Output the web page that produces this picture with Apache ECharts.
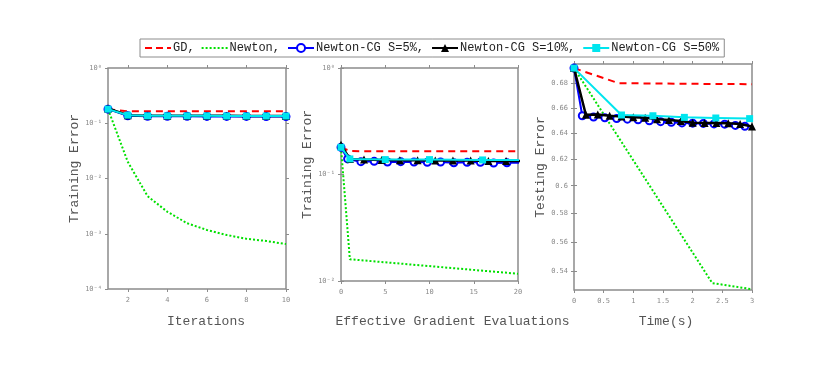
<!DOCTYPE html>
<html>
<head>
<meta charset="utf-8">
<script src="https://cdn.jsdelivr.net/npm/echarts@6/dist/echarts.min.js"></script>
<style>
html,body{margin:0;padding:0;background:#fff;}
#chart{width:830px;height:371px;}
</style>
</head>
<body>
<div id="chart"></div>
<script>
// series names / legend
const names = ['GD', 'Newton', 'Newton-CG S=5%', 'Newton-CG S=10%', 'Newton-CG S=50%'];

// panel 1: training error vs iterations
const itX = [1, 2, 3, 4, 5, 6, 7, 8, 9, 10];
const itGD = [0.18, 0.165, 0.165, 0.165, 0.165, 0.165, 0.165, 0.165, 0.165, 0.165];
const itNewton = [0.18, 0.02, 0.0048, 0.0025, 0.00155, 0.00117, 0.00095, 0.00081, 0.00074, 0.00065];
const itCG5 = [0.18, 0.137, 0.134, 0.134, 0.134, 0.133, 0.133, 0.133, 0.132, 0.132];
const itCG10 = [0.185, 0.14, 0.137, 0.137, 0.136, 0.136, 0.136, 0.135, 0.135, 0.135];
const itCG50 = [0.18, 0.14, 0.136, 0.136, 0.136, 0.136, 0.135, 0.135, 0.135, 0.135];
const itTicks = [2, 4, 6, 8, 10];

// panel 2: training error vs effective gradient evaluations
const geGDx = [0, 1, 5, 10, 15, 20];
const geGD = [0.18, 0.166, 0.165, 0.165, 0.165, 0.165];
const geNewtonX = [0, 1, 20];
const geNewton = [0.18, 0.016, 0.0117];
const geCG5x = [0, 0.75, 2.25, 3.75, 5.25, 6.75, 8.25, 9.75, 11.25, 12.75, 14.25, 15.75, 17.25, 18.75, 20.25];
const geCG5 = [0.18, 0.14, 0.132, 0.133, 0.131, 0.132, 0.131, 0.13, 0.131, 0.129, 0.13, 0.13, 0.128, 0.129, 0.129];
const geCG10x = [0, 1, 2.6, 4.6, 6.65, 8.65, 10.65, 12.65, 14.65, 16.65, 18.65, 20.65];
const geCG10 = [0.19, 0.14, 0.138, 0.137, 0.136, 0.136, 0.135, 0.135, 0.135, 0.134, 0.134, 0.134];
const geCG50x = [0, 1, 5, 10, 16, 22];
const geCG50 = [0.18, 0.14, 0.138, 0.138, 0.137, 0.137];

// panel 3: testing error vs time(s)
const tmGDx = [0, 0.75, 1.5, 2.25, 3];
const tmGD = [0.693, 0.6803, 0.68, 0.6797, 0.6795];
const tmNewtonX = [0, 2.33, 3];
const tmNewton = [0.693, 0.5325, 0.5285];
const tmCG5x = [0, 0.14, 0.33, 0.52, 0.72, 0.9, 1.08, 1.27, 1.46, 1.64, 1.82, 2.0, 2.18, 2.36, 2.54, 2.72, 2.88];
const tmCG5 = [0.693, 0.6537, 0.6527, 0.652, 0.6515, 0.651, 0.6505, 0.6497, 0.649, 0.6485, 0.648, 0.6478, 0.6476, 0.6472, 0.647, 0.646, 0.6453];
const tmCG10x = [0, 0.2, 0.4, 0.6, 0.8, 1.0, 1.2, 1.4, 1.6, 1.8, 2.0, 2.2, 2.4, 2.6, 2.8, 3.0];
const tmCG10 = [0.693, 0.6545, 0.6547, 0.6537, 0.653, 0.6524, 0.652, 0.651, 0.6503, 0.6495, 0.6482, 0.648, 0.6479, 0.6478, 0.6471, 0.6452];
const tmCG50x = [0, 0.8, 1.33, 1.86, 2.39, 2.96];
const tmCG50 = [0.693, 0.6543, 0.6537, 0.6524, 0.6519, 0.6514];
const tmYTicks = [0.54, 0.56, 0.58, 0.6, 0.62, 0.64, 0.66, 0.68];

const zip = (xs, ys) => xs.map((x, i) => [x, ys[i]]);

const gray = '#8c8c8c';
const mono = '"Liberation Mono", "DejaVu Sans Mono", monospace';
const supMap = {'-': '\u207b', '0': '\u2070', '1': '\u00b9', '2': '\u00b2', '3': '\u00b3', '4': '\u2074'};
const powLabel = v => '10' + String(Math.round(Math.log10(v))).split('').map(c => supMap[c]).join('');

const tickStyle = {show: true, inside: false, length: 3, lineStyle: {color: gray, width: 1}};
const labelStyle = {color: '#8a8a8a', fontSize: 7, fontFamily: '"DejaVu Sans Mono", monospace'};
const nameStyle = {color: '#555', fontSize: 13, fontFamily: mono};

function xAx(grid, min, max, opts, name, gap, shift) {
  return [
    Object.assign({
      type: 'value', gridIndex: grid, min: min, max: max, position: 'bottom',
      axisLine: {show: false}, splitLine: {show: false},
      axisTick: Object.assign({}, tickStyle, opts.ticks ? {customValues: opts.ticks} : {}),
      axisLabel: Object.assign({margin: 8, showMinLabel: true, showMaxLabel: true}, labelStyle,
        opts.ticks ? {customValues: opts.ticks} : {}),
      name: name, nameLocation: 'middle', nameGap: gap,
      nameTextStyle: Object.assign({padding: [0, 0, 0, shift * 2]}, nameStyle)
    }, opts.interval ? {interval: opts.interval} : {}),
    Object.assign({
      type: 'value', gridIndex: grid, min: min, max: max, position: 'top',
      axisLine: {show: false}, splitLine: {show: false}, axisLabel: {show: false},
      axisTick: Object.assign({}, tickStyle, opts.ticks ? {customValues: opts.ticks} : {})
    }, opts.interval ? {interval: opts.interval} : {})
  ];
}

function yAx(grid, type, min, max, ticks, fmt, name, gap) {
  const base = {type: type, gridIndex: grid, min: min, max: max, splitLine: {show: false}, axisLine: {show: false}};
  if (type === 'log') base.logBase = 10;
  const tk = Object.assign({}, tickStyle, ticks ? {customValues: ticks} : {});
  return [
    Object.assign({}, base, {
      position: 'left', axisTick: tk,
      axisLabel: Object.assign({margin: 6, formatter: fmt}, labelStyle, ticks ? {customValues: ticks} : {}),
      name: name, nameLocation: 'middle', nameGap: gap, nameRotate: 90,
      nameTextStyle: Object.assign({padding: [0, 0, 0, 20]}, nameStyle)
    }),
    Object.assign({}, base, {position: 'right', axisTick: tk, axisLabel: {show: false}})
  ];
}

const styles = [
  {color: '#ff0000', lineStyle: {type: [7, 5], width: 2}, symbol: 'none'},
  {color: '#00e000', lineStyle: {type: [2, 2], width: 2}, symbol: 'none'},
  {color: '#0000ff', lineStyle: {width: 2}, symbol: 'emptyCircle', symbolSize: 7, itemStyle: {borderWidth: 2}},
  {color: '#000000', lineStyle: {width: 2.5}, symbol: 'triangle', symbolSize: 8},
  {color: '#00e5ee', lineStyle: {width: 2}, symbol: 'rect', symbolSize: 7}
];

function mk(k, xi, data) {
  return Object.assign({
    name: names[k], type: 'line', xAxisIndex: xi, yAxisIndex: xi, data: data,
    showSymbol: true, animation: false, clip: true, z: 2 + k
  }, styles[k]);
}

const grids = [
  {left: 108, top: 68, width: 178, height: 221},
  {left: 341, top: 68, width: 177, height: 213},
  {left: 574, top: 64, width: 178, height: 226}
].map(g => Object.assign({show: true, borderColor: gray, borderWidth: 1.5, backgroundColor: '#fff'}, g));

// legend icons for the plain dashed / dotted lines
const dashIcon = 'path://M0,0H7V2H0Z M11,0H18V2H11Z M22,0H26V2H22Z';
const dotIcon = 'path://M0,0H2V2H0Z M4,0H6V2H4Z M8,0H10V2H8Z M12,0H14V2H12Z M16,0H18V2H16Z M20,0H22V2H20Z M24,0H26V2H24Z';

const option = {
  backgroundColor: '#fff',
  animation: false,
  legend: {
    data: [
      {name: names[0], icon: dashIcon},
      {name: names[1], icon: dotIcon},
      names[2], names[3], names[4]
    ],
    left: 140, top: 39, orient: 'horizontal',
    borderColor: gray, borderWidth: 1, padding: [3, 5], itemGap: 7,
    itemWidth: 26, itemHeight: 10,
    textStyle: {fontFamily: mono, fontSize: 12, color: '#222', padding: [0, 0, 0, -3]},
    formatter: n => n === names[4] ? n : n + ','
  },
  grid: grids,
  xAxis: [].concat(
    xAx(0, 1, 10, {ticks: itTicks}, 'Iterations', 26, 9),
    xAx(1, 0, 20, {interval: 5}, 'Effective Gradient Evaluations', 34, 23),
    xAx(2, 0, 3, {interval: 0.5}, 'Time(s)', 25, 3)
  ),
  yAxis: [].concat(
    yAx(0, 'log', 1e-4, 1, null, powLabel, 'Training Error', 24),
    yAx(1, 'log', 1e-2, 1, null, powLabel, 'Training Error', 24),
    yAx(2, 'log', 0.528, 0.6965, tmYTicks, v => String(+v.toFixed(2)), 'Testing Error', 24)
  ),
  series: [
    mk(0, 0, zip(itX, itGD)), mk(1, 0, zip(itX, itNewton)), mk(2, 0, zip(itX, itCG5)),
    mk(3, 0, zip(itX, itCG10)), mk(4, 0, zip(itX, itCG50)),
    mk(0, 2, zip(geGDx, geGD)), mk(1, 2, zip(geNewtonX, geNewton)), mk(2, 2, zip(geCG5x, geCG5)),
    mk(3, 2, zip(geCG10x, geCG10)), mk(4, 2, zip(geCG50x, geCG50)),
    mk(0, 4, zip(tmGDx, tmGD)), mk(1, 4, zip(tmNewtonX, tmNewton)), mk(2, 4, zip(tmCG5x, tmCG5)),
    mk(3, 4, zip(tmCG10x, tmCG10)), mk(4, 4, zip(tmCG50x, tmCG50))
  ]
};

const chart = echarts.init(document.getElementById('chart'), null, {renderer: 'canvas'});
chart.setOption(option);
</script>
</body>
</html>
